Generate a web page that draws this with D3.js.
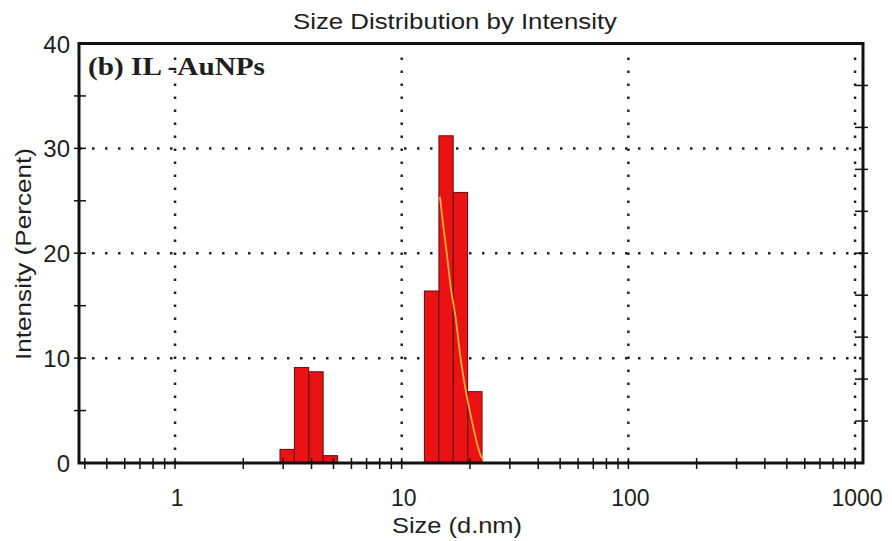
<!DOCTYPE html>
<html>
<head>
<meta charset="utf-8">
<script src="https://cdn.jsdelivr.net/npm/d3@7/dist/d3.min.js"></script>
<style>
  body { margin: 0; background: #fff; }
  svg { display: block; }
  text { font-family: "Liberation Sans", Arial, sans-serif; fill: #1e1e1e; }
</style>
</head>
<body>
<svg width="892" height="541"></svg>
<script>
// bin centres (d.nm) and intensities
const binSizes = [3.122, 3.615, 4.187, 4.849, 13.54, 15.69, 18.17, 21.04];
const binIntensity = [1.3, 9.1, 8.7, 0.7, 16.4, 31.2, 25.8, 6.8];

// the orange fit line
const fitSizes = [14.75, 15.16, 15.8, 16.45, 17.36, 18.08, 19.02, 20.36, 22.15, 22.9];
const fitIntensity = [25.4, 23.1, 20.0, 16.8, 13.6, 10.4, 7.3, 4.1, 0.9, 0.3];

const xTicks = [1, 10, 100, 1000];
const yTicks = [0, 10, 20, 30, 40];
const yGrid = [10, 20, 30];

const binsPerDecade = 70 / Math.log10(10000 / 0.4);
const halfBin = Math.pow(10, 0.5 / binsPerDecade);

const svg = d3.select('svg');
const plotL = 79, plotR = 863, plotT = 43.5, plotB = 463;

const x = d3.scaleLog().domain([0.377, 1084]).range([plotL, plotR]);
const y = d3.scaleLinear().domain([0, 40]).range([plotB, plotT]);

// grid
const grid = svg.append('g')
  .attr('stroke', '#222')
  .attr('stroke-width', 2.5)
  .attr('stroke-dasharray', '2.5,10.5');

grid.selectAll('.vg')
  .data(xTicks)
  .enter()
  .append('line')
  .attr('x1', (d) => x(d))
  .attr('x2', (d) => x(d))
  .attr('y1', plotB)
  .attr('y2', plotT + 4);

grid.selectAll('.hg')
  .data(yGrid)
  .enter()
  .append('line')
  .attr('x1', plotL)
  .attr('x2', plotR)
  .attr('y1', (d) => y(d))
  .attr('y2', (d) => y(d));

// bars
svg.append('g')
  .selectAll('rect')
  .data(binSizes)
  .enter()
  .append('rect')
  .attr('x', (d) => x(d / halfBin))
  .attr('width', (d) => x(d * halfBin) - x(d / halfBin))
  .attr('y', (d, i) => y(binIntensity[i]))
  .attr('height', (d, i) => y(0) - y(binIntensity[i]))
  .attr('fill', '#ea1212')
  .attr('stroke', '#6a0a0a')
  .attr('stroke-width', 1);

// fit line
const line = d3.line()
  .x((d) => x(d))
  .y((d, i) => y(fitIntensity[i]))
  .curve(d3.curveMonotoneX);

svg.append('path')
  .attr('d', line(fitSizes))
  .attr('fill', 'none')
  .attr('stroke', '#f0ad3a')
  .attr('stroke-width', 1.8);

// minor ticks
const minorX = [];
[0.1, 1, 10, 100].forEach((dec) => {
  for (let k = 2; k <= 9; k++) {
    const v = dec * k;
    if (v > 0.377 && v < 1084) minorX.push(v);
  }
});

const ticks = svg.append('g')
  .attr('stroke', '#111')
  .attr('stroke-width', 1.5);

ticks.selectAll('.xt')
  .data(minorX.concat(xTicks))
  .enter()
  .append('line')
  .attr('x1', (d) => x(d))
  .attr('x2', (d) => x(d))
  .attr('y1', plotB - 5)
  .attr('y2', plotB + 6);

ticks.selectAll('.yt')
  .data(d3.range(5, 40, 5))
  .enter()
  .append('line')
  .attr('x1', plotL - 5)
  .attr('x2', plotL + 7)
  .attr('y1', (d) => y(d))
  .attr('y2', (d) => y(d));

ticks.selectAll('.rt')
  .data(d3.range(4, 40, 4))
  .enter()
  .append('line')
  .attr('x1', plotR - 8)
  .attr('x2', plotR + 5)
  .attr('y1', (d) => y(d))
  .attr('y2', (d) => y(d));

// frame
svg.append('rect')
  .attr('x', plotL)
  .attr('y', plotT)
  .attr('width', plotR - plotL)
  .attr('height', plotB - plotT)
  .attr('fill', 'none')
  .attr('stroke', '#111')
  .attr('stroke-width', 3);

// tick labels
svg.append('g')
  .selectAll('text')
  .data(xTicks)
  .enter()
  .append('text')
  .attr('x', (d) => x(d) + 2)
  .attr('y', 506)
  .attr('text-anchor', 'middle')
  .attr('font-size', 23)
  .text((d) => d);

svg.append('g')
  .selectAll('text')
  .data(yTicks)
  .enter()
  .append('text')
  .attr('x', 70)
  .attr('y', (d) => y(d) + 9)
  .attr('text-anchor', 'end')
  .attr('font-size', 24)
  .text((d) => d);

// titles
svg.append('text')
  .attr('x', 293)
  .attr('y', 29)
  .attr('font-size', 22)
  .attr('textLength', 324)
  .attr('lengthAdjust', 'spacingAndGlyphs')
  .text('Size Distribution by Intensity');

svg.append('text')
  .attr('x', 392)
  .attr('y', 533)
  .attr('font-size', 22)
  .attr('textLength', 130)
  .attr('lengthAdjust', 'spacingAndGlyphs')
  .text('Size (d.nm)');

svg.append('text')
  .attr('transform', 'translate(31,360) rotate(-90)')
  .attr('font-size', 22)
  .attr('textLength', 212)
  .attr('lengthAdjust', 'spacingAndGlyphs')
  .text('Intensity (Percent)');

svg.append('text')
  .attr('x', 88)
  .attr('y', 75)
  .attr('font-size', 25)
  .attr('font-weight', 'bold')
  .attr('textLength', 177)
  .attr('lengthAdjust', 'spacingAndGlyphs')
  .style('font-family', '"Liberation Serif", "Times New Roman", serif')
  .text('(b) IL -AuNPs');
</script>
</body>
</html>
